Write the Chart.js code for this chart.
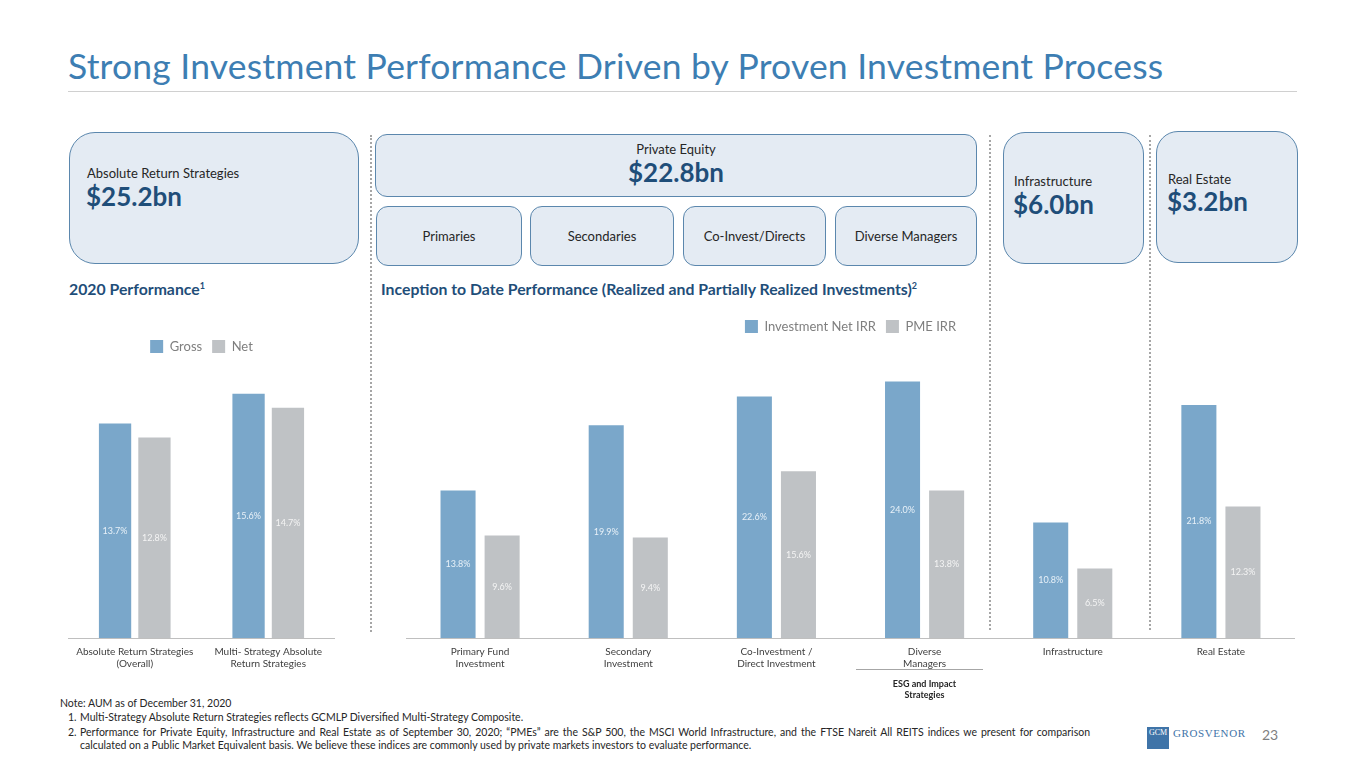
<!DOCTYPE html>
<html>
<head>
<meta charset="utf-8">
<script src="https://cdn.jsdelivr.net/npm/chart.js@4.4.0/dist/chart.umd.min.js"></script>
<style>
  body { margin: 0; width: 1365px; height: 768px; position: relative; overflow: hidden; background: #fff; font-family: Lato, "Open Sans", sans-serif; color: #262626; }
  .abs { position: absolute; }
  .title { left: 68px; top: 44px; font-size: 35.5px; letter-spacing: 0.2px; color: #3d7eb3; white-space: nowrap; }
  .rule { left: 68px; top: 91px; width: 1229px; height: 1px; background: #d0d0d0; }
  .box { position: absolute; box-sizing: border-box; background: #e4ebf3; border: 1.5px solid #5b87ad; }
  .lab { font-size: 13px; color: #262626; }
  .big { font-size: 26px; font-weight: bold; color: #1f4e79; }
  .sub { display: flex; align-items: center; justify-content: center; font-size: 13px; }
  .head { font-size: 15.8px; font-weight: bold; color: #1f4e79; white-space: nowrap; }
  .head sup { font-size: 9px; }
  .dots { width: 0; border-left: 2px dotted #a6a6a6; }
  .fn { font-size: 10.5px; color: #262626; white-space: nowrap; }
</style>
</head>
<body>
<div class="abs title">Strong Investment Performance Driven by Proven Investment Process</div>
<div class="abs rule"></div>

<div class="box" style="left:69px;top:132px;width:290px;height:132px;border-radius:26px;"></div>
<div class="abs lab" style="left:87px;top:165px;">Absolute Return Strategies</div>
<div class="abs big" style="left:86px;top:180px;">$25.2bn</div>

<div class="box" style="left:375px;top:134px;width:602px;height:63px;border-radius:12px;"></div>
<div class="abs lab" style="left:375px;width:602px;text-align:center;top:141px;">Private Equity</div>
<div class="abs big" style="left:375px;width:602px;text-align:center;top:156px;">$22.8bn</div>

<div class="box sub" style="left:376px;top:206px;width:146px;height:60px;border-radius:12px;">Primaries</div>
<div class="box sub" style="left:530px;top:206px;width:144px;height:60px;border-radius:12px;">Secondaries</div>
<div class="box sub" style="left:683px;top:206px;width:143px;height:60px;border-radius:12px;">Co-Invest/Directs</div>
<div class="box sub" style="left:835px;top:206px;width:142px;height:60px;border-radius:12px;">Diverse Managers</div>

<div class="box" style="left:1003px;top:132px;width:141px;height:132px;border-radius:22px;"></div>
<div class="abs lab" style="left:1014px;top:173px;">Infrastructure</div>
<div class="abs big" style="left:1013px;top:188px;">$6.0bn</div>

<div class="box" style="left:1156px;top:131px;width:142px;height:132px;border-radius:22px;"></div>
<div class="abs lab" style="left:1168px;top:171px;">Real Estate</div>
<div class="abs big" style="left:1167px;top:185px;">$3.2bn</div>

<div class="abs dots" style="left:370px;top:135px;height:497px;"></div>
<div class="abs dots" style="left:989px;top:135px;height:495px;"></div>
<div class="abs dots" style="left:1149px;top:135px;height:495px;"></div>

<div class="abs head" style="left:69px;top:279px;">2020 Performance<sup>1</sup></div>
<div class="abs head" style="left:381px;top:279px;">Inception to Date Performance (Realized and Partially Realized Investments)<sup>2</sup></div>

<div class="abs" style="left:68px;top:330px;width:267px;height:340px;"><canvas id="left"></canvas></div>
<div class="abs" style="left:406px;top:310px;width:889px;height:360px;"><canvas id="right"></canvas></div>

<div class="abs" style="left:856px;top:669px;width:127px;height:1px;background:#a6a6a6;"></div>
<div class="abs" style="left:856px;width:137px;text-align:center;top:678px;font-size:9px;font-weight:bold;line-height:11px;color:#262626;">ESG and Impact<br>Strategies</div>

<div class="abs fn" style="left:60px;top:697px;">Note: AUM as of December 31, 2020</div>
<div class="abs fn" style="left:68px;top:711px;">1.</div>
<div class="abs fn" style="left:80px;top:711px;">Multi-Strategy Absolute Return Strategies reflects GCMLP Diversified Multi-Strategy Composite.</div>
<div class="abs fn" style="left:68px;top:726px;">2.</div>
<div class="abs fn" style="left:80px;top:726px;width:1010px;white-space:normal;text-align:justify;text-align-last:justify;">Performance for Private Equity, Infrastructure and Real Estate as of September 30, 2020; “PMEs” are the S&amp;P 500, the MSCI World Infrastructure, and the FTSE Nareit All REITS indices we present for comparison</div>
<div class="abs fn" style="left:80px;top:739px;">calculated on a Public Market Equivalent basis. We believe these indices are commonly used by private markets investors to evaluate performance.</div>

<div class="abs" style="left:1147px;top:727px;width:22px;height:22px;background:#3f74a8;color:#fff;font-family:'Liberation Serif',serif;font-size:8px;line-height:12px;text-align:center;">GCM</div>
<div class="abs" style="left:1173px;top:727px;font-family:'Liberation Serif',serif;font-size:11px;color:#3f74a8;letter-spacing:0.6px;">GROSVENOR</div>
<div class="abs" style="left:1262px;top:726px;font-size:14px;color:#7f7f7f;">23</div>

<script>
// left chart: 2020 performance
const leftLabels = [["Absolute Return Strategies", "(Overall)"], ["Multi- Strategy Absolute", "Return Strategies"]];
const grossValues = [13.7, 15.6];
const netValues = [12.8, 14.7];

// right chart: inception to date
const rightLabels = [["Primary Fund", "Investment"], ["Secondary", "Investment"], ["Co-Investment /", "Direct Investment"], ["Diverse", "Managers"], "Infrastructure", "Real Estate"];
const irrValues = [13.8, 19.9, 22.6, 24.0, 10.8, 21.8];
const pmeValues = [9.6, 9.4, 15.6, 13.8, 6.5, 12.3];

const blue = "#7aa7ca";
const grey = "#bfc2c5";
const font = "Lato, 'Open Sans', sans-serif";

// value labels in the middle of each bar
const barLabels = {
  id: "barLabels",
  afterDatasetsDraw(chart) {
    const ctx = chart.ctx;
    ctx.save();
    ctx.font = "9px " + font;
    ctx.textAlign = "center";
    ctx.textBaseline = "middle";
    chart.data.datasets.forEach((ds, i) => {
      ctx.fillStyle = i === 0 ? "#e8f1f8" : "#f4f4f4";
      chart.getDatasetMeta(i).data.forEach((bar, j) => {
        ctx.fillText(ds.data[j].toFixed(1) + "%", bar.x, (bar.y + bar.base) / 2);
      });
    });
    ctx.restore();
  }
};

function makeOptions(ymax, cat, bar) {
  return {
    responsive: true,
    maintainAspectRatio: false,
    animation: false,
    layout: { padding: 0 },
    datasets: { bar: { categoryPercentage: cat, barPercentage: bar } },
    plugins: {
      legend: {
        position: "top",
        labels: { boxWidth: 13, boxHeight: 13, padding: 10, color: "#7f7f7f", font: { family: font, size: 13 } }
      },
      tooltip: { enabled: false }
    },
    scales: {
      x: {
        grid: { display: false },
        border: { color: "#bfbfbf", width: 1 },
        ticks: { color: "#404040", font: { family: font, size: 10 }, padding: 0, maxRotation: 0, autoSkip: false }
      },
      y: { min: 0, max: ymax, display: false }
    }
  };
}

new Chart(document.getElementById("left"), {
  type: "bar",
  data: {
    labels: leftLabels,
    datasets: [
      { label: "Gross", data: grossValues, backgroundColor: blue },
      { label: "Net", data: netValues, backgroundColor: grey }
    ]
  },
  options: makeOptions(17.56, 0.59, 0.82),
  plugins: [barLabels]
});

new Chart(document.getElementById("right"), {
  type: "bar",
  data: {
    labels: rightLabels,
    datasets: [
      { label: "Investment Net IRR", data: irrValues, backgroundColor: blue },
      { label: "PME IRR", data: pmeValues, backgroundColor: grey }
    ]
  },
  options: makeOptions(27.6, 0.595, 0.795),
  plugins: [barLabels]
});
</script>
</body>
</html>
